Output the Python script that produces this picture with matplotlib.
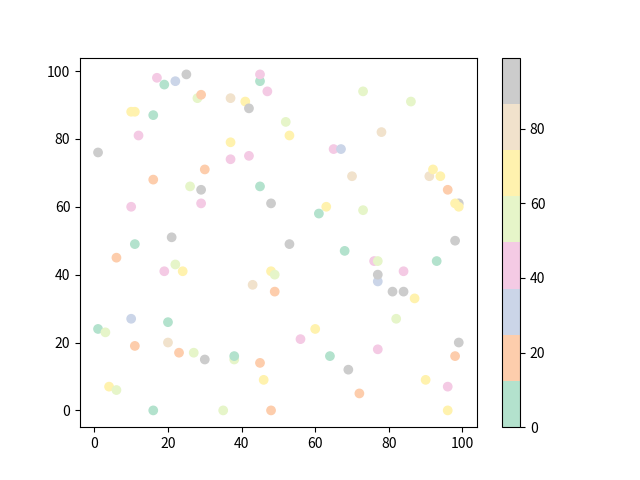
import matplotlib
matplotlib.use('Agg')
import matplotlib.pyplot as plt
import numpy as np

plt.rcParams['font.family'] = ['Noto Sans CJK SC', 'DejaVu Sans']

# colour groups: value inside each Pastel2 band
G, O, B, P, L, Y, E, K = 5, 18, 30, 44, 55, 68, 80, 94

x = [25, 22, 17, 19, 28, 29, 10, 11, 16, 12, 1, 30, 16,
     45, 45, 47, 37, 41, 42, 52, 53, 37, 37, 42, 65, 67,
     73, 86, 78, 70, 91, 92, 94,
     26, 29, 29, 10, 45, 48, 63, 61, 73, 96, 99, 98, 99,
     21, 11, 6, 22, 19, 24, 53, 68, 76, 77, 93, 98,
     77, 77, 84, 81, 84, 87, 48, 49, 43, 49,
     10, 1, 3, 20, 11, 20, 23, 27, 30, 4, 6, 16,
     38, 38, 45, 46, 35, 48, 56, 60, 64,
     82, 77, 69, 72, 99, 98, 90, 96, 96]
y = [99, 97, 98, 96, 92, 93, 88, 88, 87, 81, 76, 71, 68,
     97, 99, 94, 92, 91, 89, 85, 81, 79, 74, 75, 77, 77,
     94, 91, 82, 69, 69, 71, 69,
     66, 65, 61, 60, 66, 61, 60, 58, 59, 65, 61, 61, 60,
     51, 49, 45, 43, 41, 41, 49, 47, 44, 44, 44, 50,
     38, 40, 41, 35, 35, 33, 41, 40, 37, 35,
     27, 24, 23, 26, 19, 20, 17, 17, 15, 7, 6, 0,
     15, 16, 14, 9, 0, 0, 21, 24, 16,
     27, 18, 12, 5, 20, 16, 9, 7, 0]
c = [99, B, P, G, L, O, Y, Y, G, P, K, O, O,
     G, P, P, E, Y, K, L, Y, Y, P, P, P, B,
     L, L, E, E, E, Y, Y,
     L, K, P, P, G, K, Y, G, L, O, K, Y, Y,
     K, G, O, L, P, Y, K, G, P, L, G, K,
     B, K, P, K, K, Y, Y, L, E, O,
     B, 0, L, G, O, E, O, L, K, Y, L, G,
     L, G, O, Y, L, O, P, Y, G,
     L, P, K, O, K, O, Y, P, Y]

fig = plt.figure(figsize=(6.4, 4.8), dpi=100)
ax = fig.add_subplot(111)
sc = ax.scatter(x, y, c=c, cmap='Pastel2')
plt.colorbar(sc)
fig.savefig('out.png')
